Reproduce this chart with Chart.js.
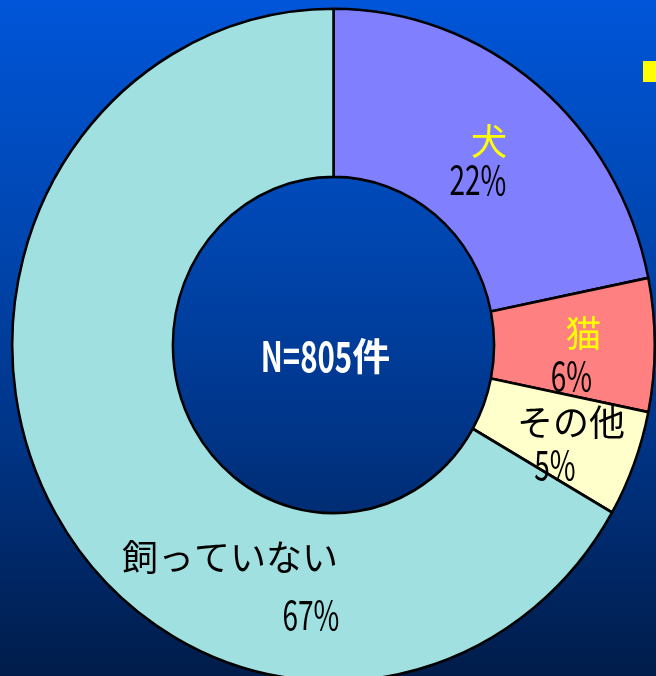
<!DOCTYPE html>
<html>
<head>
<meta charset="utf-8">
<script src="https://cdn.jsdelivr.net/npm/chart.js@4"></script>
<style>
html, body { margin: 0; padding: 0; overflow: hidden; }
body {
  width: 656px; height: 676px; position: relative;
  background: linear-gradient(to bottom, #0055d8 0%, #0046b0 35%, #003486 65%, #001c4a 100%);
}
#pets-chart { position: absolute; left: 0; top: 0; }
#bullet { position: absolute; left: 643px; top: 61px; width: 20px; height: 21px; background: #ffff00; }
</style>
</head>
<body>
<canvas id="pets-chart" width="656" height="676"></canvas>
<div id="bullet"></div>
<script>
var petLabels = ["犬", "猫", "その他", "飼っていない"];
var petShares = [21.8, 6.4, 5.1, 66.7];
var petColors = ["#8080ff", "#ff8080", "#ffffcc", "#a0e0e0"];
var nameColors = ["#ffff00", "#ffff00", "#000000", "#000000"];
var totalText = "N=805件";
// offsets from slice centre: name dx, name dy, percent dx, percent dy
var labelOffsets = [[3, -8, -8, 30], [9, -12, -3, 31], [12, -12, -4, 31], [105, 86, 186, 143]];
var SY = 1.0466; // the original ring is a bit taller than wide

function drawMixedText(ctx, text, x, y, size, bold, color) {
  var runs = text.match(/[\x00-\x7f]+|[^\x00-\x7f]+/g),
    w = 0,
    parts = runs.map(function (r) {
      var ascii = /^[\x00-\x7f]/.test(r),
        f = (bold ? "bold " : "") + (ascii ? Math.round(size * 1.1) : size) + "px 'Noto Sans CJK JP'";
      ctx.font = f;
      var sx = ascii ? 0.7 : 1,
        pw = ctx.measureText(r).width * sx;
      w += pw;
      return { t: r, f: f, sx: sx, w: pw };
    });
  var cx = x - w / 2;
  ctx.fillStyle = color;
  ctx.textBaseline = "middle";
  ctx.textAlign = "left";
  parts.forEach(function (p) {
    ctx.save();
    ctx.translate(cx, y);
    ctx.scale(p.sx, 1);
    ctx.font = p.f;
    ctx.fillText(p.t, 0, 0);
    ctx.restore();
    cx += p.w;
  });
}

var stretchPlugin = {
  id: "stretch",
  beforeDatasetsDraw(c) {
    var a = c.getDatasetMeta(0).data[0];
    c.ctx.save();
    c.ctx.translate(a.x, a.y);
    c.ctx.scale(1, SY);
    c.ctx.translate(-a.x, -a.y);
  },
  afterDatasetsDraw(c) {
    c.ctx.restore();
  },
};

var labelPlugin = {
  id: "sliceLabels",
  afterDraw(c) {
    var ctx = c.ctx,
      arcs = c.getDatasetMeta(0).data,
      cy = arcs[0].y;
    arcs.forEach(function (arc, i) {
      var p = arc.tooltipPosition(),
        px = p.x,
        py = cy + (p.y - cy) * SY,
        o = labelOffsets[i];
      drawMixedText(ctx, petLabels[i], px + o[0], py + o[1], 36, !1, nameColors[i]);
      drawMixedText(ctx, Math.round(petShares[i]) + "%", px + o[2], py + o[3], 36, !1, "#000000");
    });
    drawMixedText(ctx, totalText, arcs[0].x - 8, cy + 11, 38, !0, "#ffffff");
  },
};

new Chart(document.getElementById("pets-chart"), {
  type: "doughnut",
  data: {
    labels: petLabels,
    datasets: [
      {
        data: petShares,
        backgroundColor: petColors,
        borderColor: "#000000",
        borderWidth: 2.5,
      },
    ],
  },
  options: {
    responsive: !1,
    maintainAspectRatio: !1,
    animation: !1,
    events: [],
    cutout: "50%",
    rotation: 0,
    layout: { padding: { left: 11, right: -1, top: 22, bottom: 8 } },
    plugins: { legend: { display: !1 }, tooltip: { enabled: !1 } },
  },
  plugins: [stretchPlugin, labelPlugin],
});
</script>
</body>
</html>
